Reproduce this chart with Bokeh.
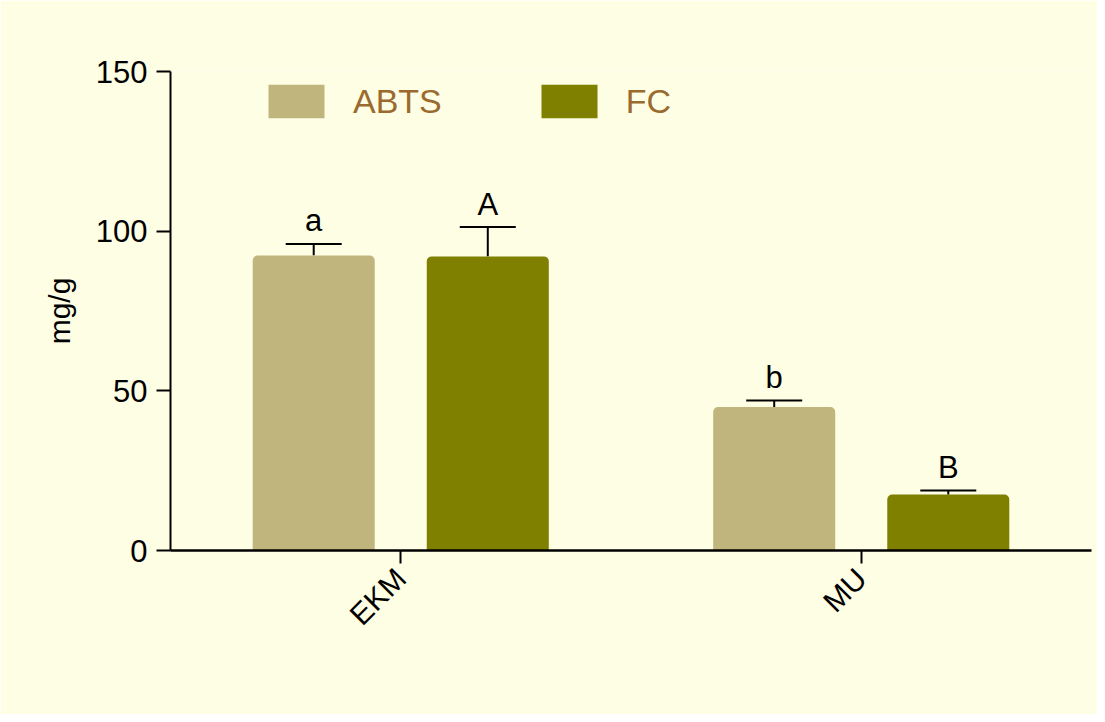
from bokeh.plotting import figure
from bokeh.models import (ColumnDataSource, Range1d, FixedTicker, Whisker, TeeHead,
                          Legend, LegendItem)
from bokeh.core.properties import value
from bokeh.embed import file_html
from bokeh.resources import INLINE

categories = ["EKM", "MU"]
abts = [92.4, 44.9]
abts_err = [3.6, 2.1]
fc = [92.1, 17.5]
fc_err = [9.2, 1.3]
abts_letters = ["a", "b"]
fc_letters = ["A", "B"]
y_ticks = [0, 50, 100, 150]

BG = "#FEFEE4"
C_ABTS = "#BFB57D"
C_FC = "#7F7F00"
FONT = "Liberation Sans"

idx = list(range(len(categories)))
off = 0.189
bw = 0.265

p = figure(width=1097, height=714, output_backend="svg", toolbar_location=None,
           x_range=Range1d(-0.5, 1.5), y_range=Range1d(0, 150))
p.min_border_left = 170
p.min_border_right = 6
p.min_border_top = 71
p.min_border_bottom = 164
p.background_fill_color = BG
p.border_fill_color = BG
p.outline_line_color = None
p.grid.visible = False

src_a = ColumnDataSource(dict(x=[i - off for i in idx], top=abts,
                              upper=[v + e for v, e in zip(abts, abts_err)],
                              lab=abts_letters))
src_f = ColumnDataSource(dict(x=[i + off for i in idx], top=fc,
                              upper=[v + e for v, e in zip(fc, fc_err)],
                              lab=fc_letters))

ra = p.vbar(x="x", top="top", width=bw, source=src_a, fill_color=C_ABTS,
            line_color=None, border_radius=(5, 5, 0, 0))
rf = p.vbar(x="x", top="top", width=bw, source=src_f, fill_color=C_FC,
            line_color=None, border_radius=(5, 5, 0, 0))

for src in (src_a, src_f):
    w = Whisker(source=src, base="x", lower="top", upper="upper",
                lower_head=None,
                upper_head=TeeHead(size=56, line_width=2, line_color="black"),
                line_width=2, line_color="black")
    p.add_layout(w)
    p.text(x="x", y="upper", text="lab", source=src, text_align="center",
           text_baseline="alphabetic", y_offset=-23,
           text_font=value(FONT), text_font_size="31px", text_color="black")

# axes
p.xaxis.ticker = FixedTicker(ticks=idx)
p.xaxis.major_label_overrides = {i: c for i, c in zip(idx, categories)}
p.xaxis.major_label_orientation = 0.785398
p.xaxis.minor_tick_line_color = None
p.xaxis.major_tick_in = 0
p.xaxis.major_tick_out = 13
p.xaxis.axis_line_width = 2.5
p.xaxis.major_tick_line_width = 2
p.xaxis.major_label_text_font = FONT
p.xaxis.major_label_text_font_size = "30px"
p.xaxis.major_label_text_color = "black"
p.xaxis.major_label_standoff = 10

p.yaxis.ticker = FixedTicker(ticks=y_ticks)
p.yaxis.minor_tick_line_color = None
p.yaxis.major_tick_in = 0
p.yaxis.major_tick_out = 14
p.yaxis.axis_line_width = 2
p.yaxis.major_tick_line_width = 2
p.yaxis.major_label_text_font = FONT
p.yaxis.major_label_text_font_size = "31px"
p.yaxis.major_label_text_color = "black"
p.yaxis.major_label_standoff = 9
p.yaxis.axis_label = "mg/g"
p.yaxis.axis_label_text_font = FONT
p.yaxis.axis_label_text_font_size = "30px"
p.yaxis.axis_label_text_font_style = "normal"
p.yaxis.axis_label_text_color = "black"
p.yaxis.axis_label_standoff = 17

legend = Legend(items=[LegendItem(label="ABTS", renderers=[ra]),
                       LegendItem(label="FC", renderers=[rf])],
                orientation="horizontal", location=(91, 428),
                glyph_width=70, glyph_height=42, label_standoff=22,
                spacing=92, padding=0, margin=0,
                border_line_color=None, background_fill_alpha=0,
                label_text_font=FONT, label_text_font_size="34px",
                label_text_color="#9A6A2E", label_height=42)
p.add_layout(legend)

open("out.html", "w").write(file_html(p, INLINE))
